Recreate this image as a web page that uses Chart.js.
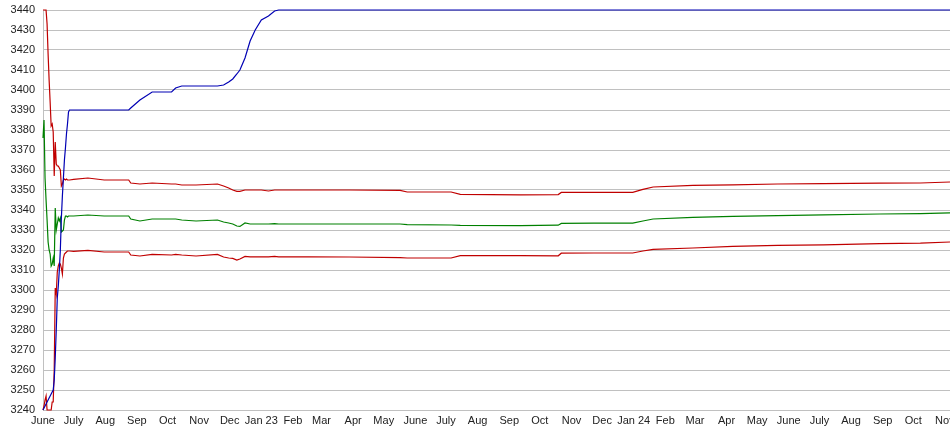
<!DOCTYPE html>
<html>
<head>
<meta charset="utf-8">
<script src="https://cdn.jsdelivr.net/npm/chart.js@4/dist/chart.umd.min.js"></script>
<style>
html, body { margin: 0; padding: 0; background: #fff; }
</style>
</head>
<body>
<canvas id="myChart" width="950" height="435"></canvas>
<script>
// x = days since 1 June 2022
var days = [0,1,2,3,4,5,6,7,8,9,10,11,12,13,14,15,16,17,18,19,20,21,22,23,24,25,26,
  30,44,60,84,86,95,107,126,130,136,
  150,171,177,182,186,190,193,198,203,208,
  214,221,227,231,260,300,350,357,400,409,
  468,505,508,540,578,588,598,637,676,720,
  765,820,860,889];

var topLine = [3240,3241,3242,3243,3244,3245,3246,3247,3248,3249,3250,3255,3266,3280,3296,3302,3310,3320,3336,3347,3356,3365,3371,3378,3383,3389,3390,
  3390,3390,3390,3390,3391,3395,3399,3399,3401,3402,
  3402,3402,3402.5,3404,3405.5,3408,3410,3416,3424.5,3430,
  3435,3437,3439.5,3440,3440,3440,3440,3440,3440,3440,
  3440,3440,3440,3440,3440,3440,3440,3440,3440,3440,
  3440,3440,3440,3440];

var upperBand = [3440,3440,3440,3440,3433,3418,3405,3394,3382,3383,3379,3357,3374,3363,3362,3362,3361,3360,3352,3353,3355,3355.5,3355,3355.5,3355,3355,3355,
  3355.3,3356,3355,3355,3353.5,3353,3353.5,3353,3353,3352.5,
  3352.5,3353,3352,3351,3350,3349.3,3349.3,3350,3350,3350,
  3350,3349.5,3350,3350,3350,3350,3349.8,3349,3349,3347.8,
  3347.6,3347.7,3348.8,3348.8,3348.8,3350.3,3351.5,3352.3,3352.6,3353,
  3353.2,3353.4,3353.5,3354];

var midLine = [3376,3385,3356,3345,3335,3324,3320,3318,3312,3313,3316,3312,3341,3330,3333,3336,3334.5,3336,3329,3329.5,3330,3335,3337,3337,3336.5,3337,3337,
  3337,3337.5,3337,3337,3335.5,3334.5,3335.5,3335.5,3335.5,3335,
  3334.5,3335,3334,3333.5,3333,3332,3331.8,3333.5,3333,3333,
  3333,3333,3333.2,3333,3333,3333,3333,3332.7,3332.5,3332.3,
  3332.2,3332.4,3333.3,3333.4,3333.4,3334.5,3335.5,3336.3,3336.8,3337.2,
  3337.6,3338,3338.2,3338.6];

var lowerBand = [3240,3242,3245,3247,3240,3240,3240,3240,3240,3244,3244,3260,3301,3298,3309,3312,3313.5,3313,3311,3308,3316,3318,3318.5,3319,3319.5,3319.5,3319.5,
  3319.3,3319.8,3319,3319,3317.5,3317,3317.8,3317.5,3317.8,3317.5,
  3317,3317.8,3316.5,3316,3315.8,3315,3315.5,3316.8,3316.6,3316.6,
  3316.6,3316.6,3316.8,3316.6,3316.6,3316.5,3316.2,3316,3316,3317.2,
  3317.2,3317.1,3318.4,3318.5,3318.5,3319.5,3320.3,3321,3321.8,3322.3,
  3322.6,3323.2,3323.4,3324];

var monthDays = [0,30,61,92,122,153,183,214,245,273,304,334,365,395,426,457,487,518,548,579,610,639,670,700,731,761,792,823,853,884];
var monthLabels = ["June","July","Aug","Sep","Oct","Nov","Dec","Jan 23","Feb","Mar","Apr","May","June","July","Aug","Sep","Oct","Nov","Dec","Jan 24","Feb","Mar","Apr","May","June","July","Aug","Sep","Oct","Nov"];

var yMin = 3240, yMax = 3440, yStep = 10;

function pts(vals) {
  return days.map(function(d, i) { return {x: d, y: vals[i]}; });
}

function line(vals, color) {
  return {
    data: pts(vals),
    borderColor: color,
    borderWidth: 1.2,
    pointRadius: 0,
    tension: 0,
    fill: false,
    clip: 2
  };
}

var ctx = document.getElementById('myChart').getContext('2d');
var chart = new Chart(ctx, {
  type: 'line',
  data: {
    datasets: [
      line(topLine, '#0000b4'),
      line(upperBand, '#c00000'),
      line(midLine, '#008000'),
      line(lowerBand, '#c00000')
    ]
  },
  options: {
    responsive: false,
    animation: false,
    layout: { padding: { top: 10, right: 0, left: 0, bottom: 0 } },
    plugins: { legend: { display: false }, tooltip: { enabled: false } },
    scales: {
      x: {
        type: 'linear',
        min: 0,
        max: 889,
        grid: { display: false, drawTicks: false },
        border: { display: true, color: '#c0c0c0' },
        afterBuildTicks: function(scale) {
          scale.ticks = monthDays.map(function(d) { return {value: d}; });
        },
        afterFit: function(scale) {
          scale.height = 25;
          scale.paddingLeft = 0;
          scale.paddingRight = 0;
        },
        ticks: {
          autoSkip: false,
          maxRotation: 0,
          padding: 4,
          color: '#222',
          font: { family: 'Liberation Sans, Arial, sans-serif', size: 11 },
          callback: function(value, index) { return monthLabels[index]; }
        }
      },
      y: {
        min: yMin,
        max: yMax,
        grid: { color: '#c0c0c0', drawTicks: false },
        border: { display: true, color: '#c0c0c0' },
        afterFit: function(scale) {
          scale.width = 43;
          scale.paddingTop = 0;
          scale.paddingBottom = 0;
        },
        ticks: {
          stepSize: yStep,
          padding: 8,
          color: '#222',
          font: { family: 'Liberation Sans, Arial, sans-serif', size: 11 },
          callback: function(value) { return String(value); }
        }
      }
    }
  }
});
</script>
</body>
</html>
